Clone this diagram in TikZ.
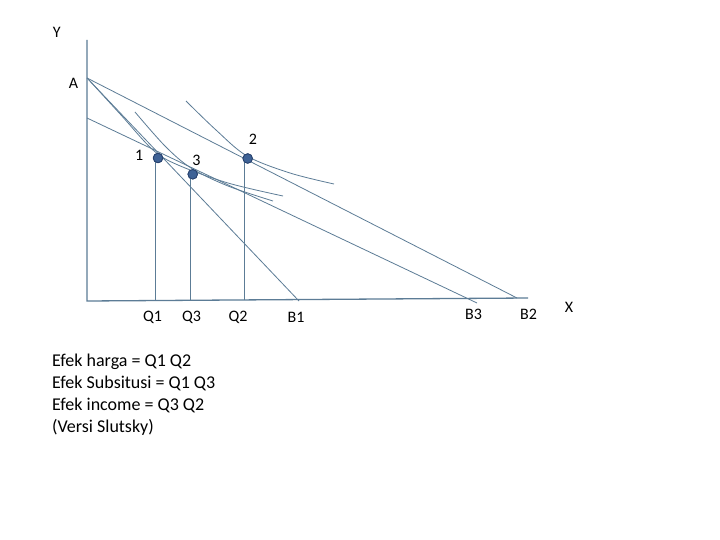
\documentclass[tikz,border=0pt]{standalone}
\usepackage{fontspec}
\setmainfont{Carlito}
\definecolor{lnc}{RGB}{92,124,150}
\definecolor{dotf}{RGB}{62,98,150}
\definecolor{dote}{RGB}{40,66,110}
\begin{document}
\begin{tikzpicture}[x=1pt,y=-1pt,
  ln/.style={draw=lnc, line width=0.8pt},
  axisline/.style={draw=lnc, line width=1.3pt},
  pt/.style={circle, fill=dotf, draw=dote, line width=0.8pt, minimum size=9.5pt, inner sep=0pt},
  lab/.style={font=\fontsize{16}{19}\selectfont, inner sep=0pt},
  txt/.style={font=\fontsize{18}{22}\selectfont, inner sep=0pt, anchor=base west}]
\useasboundingbox[fill=white] (0,0) rectangle (720,540);

% axes
\coordinate (O) at (87,301);
\coordinate (Ytop) at (87,40);
\coordinate (Xend) at (528,298);
\draw[axisline] (Ytop) -- (O) -- (Xend);

% budget line ends
\coordinate (A) at (87,78);
\coordinate (B1e) at (299,301);
\coordinate (B2e) at (517,298);
\coordinate (B3s) at (87,118);
\coordinate (B3e) at (477,303);
\draw[ln] (A) -- (B1e);
\draw[ln] (A) -- (B2e);
\draw[ln] (B3s) -- (B3e);

% indifference curves
\draw[ln] plot[smooth, tension=0.55] coordinates {(89,80) (121,115) (153,150) (178,165) (228,183) (283,196)};
\draw[ln] plot[smooth, tension=0.55] coordinates {(135,112) (165,146) (191,168) (228,186) (273,201)};
\draw[ln] plot[smooth, tension=0.55] coordinates {(186,101) (216,130) (247,156) (290,173) (334,184)};

% drop lines
\coordinate (q1) at (155,301);
\coordinate (q3) at (190.5,300.5);
\coordinate (q2) at (244,300);
\node[pt] (d1) at (158,158) {};
\node[pt] (d3) at (192.7,174.3) {};
\node[pt] (d2) at (247.7,158.5) {};
\draw[ln] (d1 -| q1) -- (q1);
\draw[ln] (d3 -| q3) -- (q3);
\draw[ln] (d2 -| q2) -- (q2);
\node[pt] at (d1) {};
\node[pt] at (d3) {};
\node[pt] at (d2) {};

% labels
\node[lab] (lY) at (56.7,32.5) {Y};
\node[lab] (lA) at (73.5,83) {A};
\node[lab] (l1) at (139.3,155) {1};
\node[lab] (l3) at (196.5,160) {3};
\node[lab] (l2) at (253,139.5) {2};
\node[lab] (lQ1) at (152.5,317) {Q1};
\node[lab] (lQ3) at (191.5,317) {Q3};
\node[lab] (lQ2) at (238,317) {Q2};
\node[lab] (lB1) at (296,317) {B1};
\node[lab] (lB3) at (473.5,314) {B3};
\node[lab] (lB2) at (528.5,314) {B2};
\node[lab] (lX) at (569,307) {X};

% text block
\node[txt] (t1) at (52,366) {Efek harga = Q1 Q2};
\node[txt] (t2) at (52,388) {Efek Subsitusi = Q1 Q3};
\node[txt] (t3) at (52,410) {Efek income = Q3 Q2};
\node[txt] (t4) at (52,432) {(Versi Slutsky)};
\end{tikzpicture}
\end{document}
